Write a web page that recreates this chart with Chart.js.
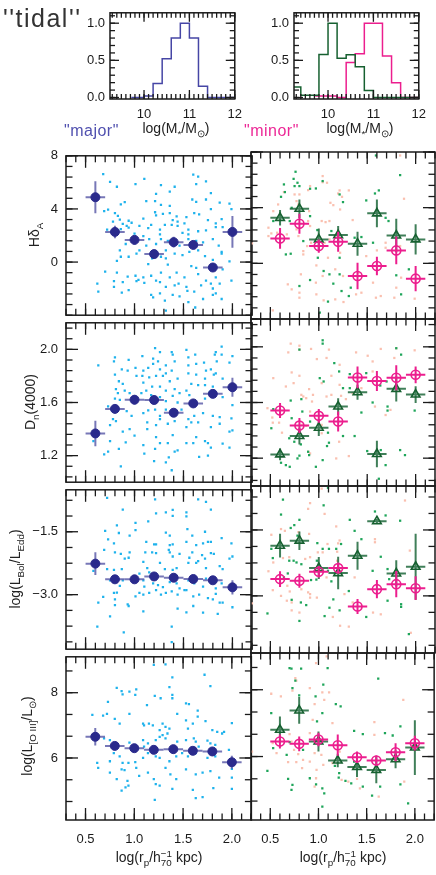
<!DOCTYPE html>
<html lang="en">
<head>
    <meta charset="UTF-8">
    <title>tidal major / minor</title>
    <script src="https://cdn.jsdelivr.net/npm/chart.js"></script>
    <style>
        body {
            margin: 0;
            width: 436px;
            height: 875px;
            position: relative;
            overflow: hidden;
            background: #fff;
            font-family: "Liberation Sans", Arial, sans-serif;
            color: #222;
        }
        canvas { position: absolute; }
        .t { position: absolute; white-space: nowrap; line-height: 1; }
        .yt { position: absolute; white-space: nowrap; line-height: 1; font-size: 14px;
              transform: translate(-50%, -50%) rotate(-90deg); }
        .xt { position: absolute; white-space: nowrap; line-height: 1; font-size: 14px;
              transform: translate(-50%, -50%); }
        sub, sup { font-size: 70%; line-height: 0; }
        .stk { display: inline-flex; flex-direction: column; font-size: 70%; line-height: 0.95;
               vertical-align: middle; }
    </style>
</head>
<body>
<script>
// ---- mass histograms (bin left edges + normalised counts) ----
const massTicks = [10, 11, 12];
const fracTicks = [0, 0.5, 1.0];
const majorMassEdges = [9.72, 10.0, 10.2, 10.4, 10.6, 10.8, 11.0, 11.2, 11.4, 12.0];
const majorMassFrac  = [0, 0.02, 0.19, 0.52, 0.80, 1.0, 0.80, 0.15, 0, 0];
const greenMassEdges = [9.25, 9.4, 9.8, 10.0, 10.2, 10.4, 10.6, 10.8, 11.0, 12.0];
const greenMassFrac  = [0.14, 0.03, 0.58, 1.0, 0.53, 0.575, 0.415, 0.095, 0, 0];
const minorMassEdges = [9.72, 10.2, 10.4, 10.6, 10.8, 11.2, 11.4, 11.6, 12.0];
const minorMassFrac  = [0.02, 0, 0.47, 0.59, 1.0, 0.56, 0.2, 0, 0];

// ---- binned medians vs projected separation ----
const rpTicks = [0.5, 1.0, 1.5, 2.0];
const rpBins = [0.6, 0.8, 1.0, 1.2, 1.4, 1.6, 1.8, 2.0];
const rpHalf = 0.1;

const hdTicks = [0, 4, 8];
const hdMajor = [4.88, 2.27, 1.67, 0.60, 1.50, 1.29, -0.41, 2.27];
const hdMajorErr = [1.2, 0.47, 0.35, 0.25, 0.4, 0.3, 0.3, 1.2];
const hdGreen = [3.27, 3.92, 1.72, 2.03, 1.41, 3.59, 2.00, 1.72];
const hdGreenErr = [0.56, 0.66, 0.78, 0.66, 0.86, 1.0, 1.2, 1.08];
const hdPink = [1.79, 2.84, 1.24, 1.55, -0.91, -0.19, 0.93, -1.10];
const hdPinkErr = [0.75, 0.72, 0.48, 0.72, 0.96, 0.66, 1.0, 0.9];

const dnTicks = [1.2, 1.6, 2.0];
const dnMajor = [1.367, 1.552, 1.621, 1.619, 1.523, 1.593, 1.665, 1.715];
const dnMajorErr = [0.096, 0.032, 0.036, 0.03, 0.03, 0.025, 0.03, 0.072];
const dnGreen = [1.227, 1.359, 1.419, 1.571, 1.674, 1.230, 1.698, 1.657];
const dnGreenErr = [0.042, 0.06, 0.06, 0.06, 0.054, 0.096, 0.09, 0.06];
const dnPink = [1.542, 1.434, 1.504, 1.463, 1.780, 1.754, 1.778, 1.799];
const dnPinkErr = [0.054, 0.054, 0.05, 0.072, 0.078, 0.072, 0.09, 0.06];

const eddTicks = [-3.0, -1.5];
const eddMajor = [-2.26, -2.634, -2.634, -2.566, -2.596, -2.627, -2.657, -2.825];
const eddMajorErr = [0.27, 0.1, 0.1, 0.1, 0.1, 0.08, 0.08, 0.17];
const eddGreen = [-1.858, -1.744, -2.368, -2.482, -2.086, -1.302, -2.49, -2.337];
const eddGreenErr = [0.27, 0.21, 0.25, 0.37, 0.32, 0.05, 0.3, 0.75];
const eddPink = [-2.619, -2.657, -2.452, -2.368, -3.243, -2.847, -2.733, -2.825];
const eddPinkErr = [0.18, 0.16, 0.13, 0.13, 0.17, 0.21, 0.3, 0.27];

const o3Ticks = [6, 8];
const o3Major = [6.65, 6.37, 6.30, 6.25, 6.27, 6.22, 6.20, 5.87];
const o3MajorErr = [0.27, 0.12, 0.12, 0.1, 0.13, 0.1, 0.1, 0.2];
const o3Green = [6.80, 7.38, 6.45, 5.88, 5.69, 5.60, 5.92, 6.27];
const o3GreenErr = [0.4, 0.4, 0.3, 0.2, 0.3, 0.4, 0.27, 0.82];
const o3Pink = [6.45, 6.38, 6.51, 6.34, 5.98, 5.88, 6.13, 6.40];
const o3PinkErr = [0.21, 0.22, 0.2, 0.32, 0.17, 0.15, 0.27, 0.22];

// ---- individual galaxies [log rp, value] ----
const hdMajorDots = [[0.68,6.62],[0.75,6.03],[0.82,5.67],[1.10,6.27],[1.01,5.86],[1.27,5.79],[1.41,5.67],[1.60,6.58],[1.65,6.43],[1.63,5.86],[1.73,6.07],[1.36,5.31],[1.22,5.14],[1.78,5.19],[1.12,4.59],[1.21,4.59],[1.59,4.71],[1.63,4.54],[1.73,4.71],[1.87,4.47],[0.86,4.35],[0.90,4.52],[1.27,4.30],[1.36,4.23],[1.97,4.40],[0.69,3.83],[0.73,3.95],[0.80,3.68],[0.83,3.47],[0.85,3.20],[0.94,3.11],[0.97,2.96],[1.09,3.27],[1.21,3.75],[1.22,3.51],[1.29,3.63],[1.36,3.68],[1.43,3.44],[1.39,3.15],[1.44,3.04],[1.53,3.39],[1.51,2.92],[1.61,3.68],[1.66,3.59],[1.78,3.99],[1.89,3.23],[1.75,3.15],[1.83,2.92],[1.99,3.99],[0.78,3.04],[0.88,2.87],[0.92,2.72],[0.72,2.44],[0.86,2.48],[0.94,2.60],[1.05,2.72],[1.14,2.56],[1.17,2.80],[1.26,2.44],[1.26,2.08],[1.31,2.80],[1.38,2.80],[1.44,2.72],[1.49,2.20],[1.55,2.44],[1.65,2.32],[1.73,2.39],[1.83,2.63],[1.90,2.63],[1.00,2.15],[1.09,1.96],[1.15,1.72],[1.12,1.24],[1.27,1.72],[1.22,1.36],[1.34,1.60],[1.32,0.88],[1.46,1.24],[1.55,2.08],[1.55,1.72],[1.63,1.60],[1.70,1.48],[1.80,1.72],[1.86,1.24],[1.89,0.76],[0.85,0.88],[0.91,1.36],[0.86,0.40],[0.94,0.40],[1.02,0.64],[1.05,0.88],[1.14,-0.15],[1.18,0.28],[1.27,0.40],[1.32,0.28],[1.41,0.64],[1.49,0.52],[1.56,0.76],[1.65,0.88],[1.72,0.45],[1.80,0.16],[1.89,0.64],[1.97,0.05],[0.82,0.09],[0.70,-0.72],[0.82,-0.79],[0.93,-1.10],[1.01,-1.03],[1.04,-1.34],[1.09,-1.15],[1.17,-1.03],[1.27,-0.79],[1.34,-0.19],[1.36,-1.15],[1.43,-0.79],[1.51,-1.15],[1.58,-0.31],[1.63,-0.43],[1.65,-0.91],[1.73,-1.39],[1.83,-1.15],[1.90,-0.55],[1.99,-1.39],[0.62,-1.63],[0.63,-2.23],[0.79,-1.44],[0.79,-1.87],[0.88,-1.51],[0.87,-2.30],[0.94,-2.11],[1.02,-1.44],[1.10,-1.56],[1.22,-1.39],[1.26,-1.51],[1.32,-1.87],[1.41,-1.75],[1.45,-1.63],[1.53,-1.87],[1.54,-2.16],[1.61,-2.23],[1.68,-1.75],[1.78,-1.63],[1.80,-1.99],[1.87,-1.63],[1.83,-2.35],[1.89,-2.78],[1.17,-2.47],[1.19,-2.66],[1.26,-2.35],[1.31,-2.90],[1.39,-2.47],[1.46,-2.59],[1.55,-3.02],[1.62,-3.42],[1.70,-2.78],[1.32,-3.66],[1.80,-2.47]];
const hdGreenDots = [[1.59,7.75],[1.84,6.34],[0.76,6.58],[0.74,6.07],[0.78,5.79],[0.64,5.67],[0.80,5.55],[0.75,5.55],[1.04,5.91],[0.97,5.38],[0.91,5.36],[1.62,5.24],[1.58,5.02],[1.215,4.95],[1.25,4.40],[1.49,4.52],[0.65,5.12],[0.61,4.78],[0.72,3.99],[0.53,3.04],[0.70,3.04],[1.69,3.27],[1.72,3.04],[0.91,3.39],[1.13,2.32],[0.985,2.39],[0.84,1.60],[1.37,1.84],[1.44,1.89],[1.56,1.48],[0.66,0.64],[0.71,0.69],[0.99,0.40],[1.215,0.40],[1.05,-0.55],[1.11,-0.79],[1.215,-0.79],[0.91,-1.20],[1.15,-1.46],[1.33,-1.75],[1.235,-1.99],[1.31,-2.35],[0.80,-1.63],[1.85,-2.23],[1.80,-0.86],[1.93,-0.43],[1.095,-2.75],[1.01,-3.54]];
const hdPinkDots = [[1.84,7.75],[1.04,6.27],[1.085,5.79],[1.04,5.83],[0.91,5.55],[0.89,5.26],[0.64,5.12],[0.75,4.95],[0.80,4.95],[1.215,5.24],[1.31,5.24],[1.20,5.02],[1.24,4.78],[1.12,4.35],[1.15,4.18],[1.22,3.87],[1.88,4.64],[0.58,4.23],[0.53,3.75],[0.77,4.47],[0.79,4.23],[0.90,3.75],[1.03,3.04],[1.07,2.96],[1.11,3.04],[1.35,3.11],[0.77,2.44],[0.48,2.56],[0.48,1.96],[0.57,2.20],[0.51,2.15],[0.67,2.08],[0.91,2.68],[0.89,3.04],[0.79,1.96],[0.92,1.48],[0.88,1.24],[0.84,0.88],[0.84,0.64],[1.06,1.48],[1.11,1.72],[0.975,-0.15],[1.095,0.40],[1.22,0.76],[1.49,0.52],[1.60,0.93],[1.69,1.48],[1.69,1.12],[1.84,1.24],[0.815,-0.79],[0.97,-1.39],[1.04,-0.91],[1.17,-0.43],[1.25,-0.91],[1.41,-0.67],[1.56,-1.39],[1.80,-1.75],[1.85,-1.03],[0.68,-1.51],[0.72,-1.87],[0.80,-2.11],[0.80,-2.47],[0.975,-2.23],[1.05,-2.66],[1.17,-2.59],[1.255,-2.78],[1.44,-2.11],[1.385,-2.23],[1.59,-2.47],[1.64,-2.35],[1.78,-2.47],[1.99,-2.54],[0.525,-3.38],[0.31,1.43]];

const dnMajorDots = [[1.21,2.01],[1.26,1.98],[1.38,1.98],[1.53,1.997],[1.83,1.98],[1.89,2.02],[1.62,1.96],[0.80,1.94],[0.79,1.91],[0.94,1.92],[1.08,1.95],[1.19,1.93],[1.24,1.91],[1.32,1.88],[1.39,1.96],[1.41,1.91],[1.55,1.94],[1.71,1.90],[1.82,1.96],[1.84,1.91],[1.89,1.96],[2.00,1.95],[0.63,1.88],[0.87,1.85],[1.01,1.86],[1.09,1.84],[1.14,1.86],[1.19,1.89],[1.26,1.85],[1.32,1.82],[1.38,1.84],[1.55,1.88],[1.63,1.89],[1.73,1.84],[1.78,1.85],[1.83,1.82],[1.97,1.90],[0.80,1.81],[0.84,1.76],[0.88,1.74],[0.93,1.84],[1.02,1.80],[1.08,1.80],[1.15,1.79],[1.22,1.80],[1.29,1.80],[1.36,1.76],[1.44,1.78],[1.55,1.82],[1.58,1.74],[1.63,1.81],[1.72,1.78],[1.81,1.81],[1.90,1.78],[0.81,1.70],[0.83,1.67],[0.90,1.69],[0.95,1.67],[1.09,1.75],[1.12,1.69],[1.18,1.72],[1.26,1.72],[1.32,1.69],[1.41,1.70],[1.46,1.67],[1.53,1.69],[1.65,1.73],[1.72,1.73],[1.80,1.72],[1.90,1.64],[2.00,1.58],[0.80,1.63],[0.85,1.62],[1.07,1.67],[1.17,1.655],[1.26,1.64],[1.32,1.61],[1.39,1.65],[1.44,1.60],[1.56,1.655],[1.72,1.63],[1.77,1.68],[0.73,1.57],[0.92,1.535],[0.97,1.50],[1.09,1.52],[1.14,1.54],[1.21,1.547],[1.26,1.50],[1.32,1.547],[1.39,1.50],[1.48,1.547],[1.55,1.475],[1.61,1.50],[1.70,1.52],[1.80,1.50],[1.87,1.49],[1.99,1.48],[0.75,1.43],[0.78,1.475],[0.81,1.46],[0.88,1.38],[0.95,1.40],[1.13,1.45],[1.22,1.43],[1.26,1.475],[1.34,1.44],[1.41,1.46],[1.53,1.415],[1.58,1.45],[1.65,1.45],[1.78,1.415],[1.87,1.44],[1.97,1.38],[2.00,1.39],[0.58,1.31],[0.69,1.21],[0.73,1.23],[0.75,1.31],[0.84,1.25],[0.91,1.30],[1.00,1.35],[1.09,1.28],[1.10,1.215],[1.13,1.40],[1.21,1.25],[1.22,1.34],[1.26,1.295],[1.34,1.295],[1.39,1.355],[1.41,1.23],[1.44,1.24],[1.53,1.295],[1.60,1.295],[1.63,1.34],[1.72,1.31],[1.75,1.295],[1.78,1.26],[1.90,1.29],[1.97,1.26],[0.86,1.12],[1.20,1.158],[1.32,1.15],[1.35,1.186],[1.38,1.09],[1.66,1.19],[1.75,1.20]];
const dnGreenDots = [[1.04,2.047],[1.04,2.023],[0.80,1.98],[1.85,1.944],[1.80,1.99],[1.16,1.883],[1.21,1.823],[1.01,1.775],[1.05,1.751],[1.32,1.804],[1.25,1.703],[1.32,1.703],[1.49,1.811],[1.70,1.751],[1.635,1.722],[0.71,1.614],[0.82,1.624],[0.53,1.552],[0.83,1.535],[0.51,1.415],[0.72,1.487],[0.91,1.463],[1.44,1.528],[1.556,1.60],[1.71,1.571],[1.71,1.542],[1.99,1.542],[0.695,1.343],[0.747,1.318],[0.815,1.299],[1.095,1.383],[1.25,1.359],[1.37,1.359],[1.105,1.311],[1.085,1.287],[0.89,1.246],[0.90,1.222],[0.80,1.218],[0.78,1.198],[0.61,1.167],[0.66,1.15],[0.70,1.138],[1.04,1.186],[0.97,1.138],[1.50,1.251],[1.64,1.258],[1.84,1.258],[1.89,1.222],[1.69,1.15],[1.62,1.052]];
const dnPinkDots = [[0.71,2.023],[0.80,2.008],[0.80,1.98],[1.105,1.98],[0.685,1.96],[0.92,1.985],[1.385,1.96],[1.505,1.936],[1.64,1.985],[1.80,1.99],[1.99,1.975],[0.98,1.912],[1.08,1.92],[0.72,1.816],[0.80,1.792],[0.53,1.775],[0.66,1.715],[0.74,1.739],[1.03,1.739],[1.13,1.792],[1.215,1.871],[1.556,1.895],[1.556,1.823],[1.78,1.92],[0.90,1.696],[0.82,1.655],[0.84,1.643],[0.87,1.631],[0.93,1.607],[0.91,1.535],[1.08,1.643],[1.13,1.655],[1.23,1.648],[1.28,1.624],[1.58,1.571],[1.69,1.51],[1.74,1.547],[0.47,1.559],[0.52,1.492],[0.525,1.455],[0.59,1.455],[0.62,1.383],[0.83,1.439],[0.87,1.432],[1.03,1.439],[1.03,1.379],[1.21,1.318],[1.18,1.198],[0.89,1.246],[0.91,1.234],[1.31,1.215],[1.215,1.727],[1.35,1.667],[1.44,1.703],[0.94,1.655]];

const eddMajorDots = [[0.72,-0.69],[1.21,-0.73],[1.65,-0.73],[1.73,-0.79],[0.88,-0.97],[1.22,-1.06],[1.32,-1.04],[1.39,-0.98],[1.39,-1.12],[1.53,-1.04],[1.53,-1.135],[1.78,-0.97],[1.01,-1.29],[1.14,-1.25],[0.82,-1.35],[0.70,-1.48],[0.84,-1.53],[0.95,-1.59],[1.01,-1.46],[1.32,-1.52],[1.36,-1.59],[1.54,-1.44],[1.59,-1.59],[1.72,-1.50],[0.73,-1.68],[0.79,-1.78],[1.12,-1.74],[1.20,-1.80],[1.22,-1.80],[1.36,-1.82],[1.39,-1.80],[1.53,-1.74],[1.63,-1.82],[1.70,-1.78],[1.75,-1.74],[1.78,-1.74],[1.89,-1.65],[1.99,-1.78],[0.69,-1.93],[0.80,-1.99],[0.86,-2.03],[0.90,-2.14],[0.94,-2.12],[0.95,-1.99],[1.11,-1.99],[1.18,-1.99],[1.22,-2.01],[1.35,-1.93],[1.36,-1.99],[1.39,-2.09],[1.46,-2.03],[1.56,-2.12],[1.59,-1.99],[1.65,-2.20],[1.69,-2.06],[1.72,-2.14],[1.78,-2.01],[1.81,-2.03],[1.97,-2.14],[2.00,-2.09],[0.58,-2.43],[0.72,-2.39],[0.79,-2.41],[0.87,-2.39],[1.09,-2.22],[1.13,-2.37],[1.26,-2.24],[1.31,-2.39],[1.39,-2.41],[1.43,-2.37],[1.55,-2.24],[1.63,-2.24],[1.73,-2.37],[1.87,-2.32],[1.90,-2.39],[0.75,-2.66],[0.85,-2.79],[0.88,-2.66],[1.05,-2.50],[1.09,-2.66],[1.10,-2.81],[1.15,-2.47],[1.19,-2.73],[1.24,-2.77],[1.29,-2.82],[1.36,-2.70],[1.38,-2.92],[1.43,-2.73],[1.46,-2.85],[1.51,-2.89],[1.55,-2.66],[1.61,-2.73],[1.70,-2.81],[1.73,-2.62],[1.83,-2.85],[1.89,-2.73],[1.83,-2.98],[0.63,-3.19],[0.68,-3.05],[0.79,-2.96],[0.80,-3.11],[0.82,-2.95],[0.94,-3.27],[1.01,-3.04],[1.05,-2.96],[1.09,-3.0],[1.15,-2.96],[1.22,-2.89],[1.27,-3.0],[1.32,-2.96],[1.44,-3.0],[1.53,-2.89],[1.60,-3.04],[1.66,-3.0],[1.75,-3.08],[1.80,-3.11],[1.87,-3.19],[1.90,-3.19],[2.00,-3.30],[0.80,-3.25],[0.75,-3.52],[0.93,-3.23],[1.09,-3.40],[1.44,-3.33],[1.53,-3.42],[1.60,-3.27],[1.70,-3.43],[1.85,-3.46],[0.62,-3.76],[0.89,-3.90],[1.38,-3.76],[1.38,-4.13]];
const eddGreenDots = [[1.095,-0.54],[0.63,-0.81],[1.05,-0.94],[0.61,-1.15],[0.80,-1.27],[1.58,-1.08],[1.69,-1.17],[1.84,-1.29],[1.32,-1.27],[0.747,-1.39],[0.71,-1.455],[0.78,-1.63],[1.37,-1.52],[1.44,-1.71],[0.985,-1.80],[1.23,-1.82],[1.18,-1.93],[1.04,-1.93],[1.105,-1.93],[0.51,-1.93],[0.525,-2.14],[0.74,-2.20],[0.695,-2.20],[0.82,-2.28],[0.77,-2.24],[1.64,-2.11],[1.556,-2.43],[1.71,-2.39],[1.727,-2.62],[0.98,-2.20],[0.92,-2.64],[0.68,-2.49],[0.64,-2.58],[0.975,-2.63],[1.13,-2.67],[1.095,-2.43],[1.31,-2.89],[0.72,-3.09],[0.815,-3.15],[0.87,-3.21],[1.15,-3.08],[1.215,-3.33],[1.11,-3.27],[0.80,-3.57],[1.06,-3.46],[1.49,-3.48],[1.85,-3.19],[1.85,-3.25],[1.71,-3.11],[0.47,-3.40],[1.93,-3.87]];
const eddPinkDots = [[1.03,-0.56],[1.89,-0.83],[0.91,-0.89],[0.89,-1.02],[1.06,-1.135],[1.18,-1.42],[0.61,-1.48],[0.65,-1.52],[0.90,-1.59],[0.79,-1.55],[0.51,-1.61],[1.215,-1.74],[1.09,-1.82],[1.20,-1.805],[1.58,-1.71],[1.58,-1.78],[1.94,-1.97],[1.04,-2.01],[1.19,-1.995],[0.99,-2.01],[0.91,-2.12],[0.86,-2.16],[0.695,-2.12],[0.53,-2.24],[0.63,-2.14],[1.19,-2.20],[1.02,-2.37],[1.08,-2.58],[1.23,-2.43],[1.37,-2.58],[0.48,-2.44],[0.525,-2.87],[0.675,-2.77],[0.70,-2.90],[0.82,-2.85],[0.89,-2.92],[0.98,-3.04],[0.91,-3.04],[0.91,-2.96],[1.265,-2.96],[0.61,-3.0],[0.67,-3.11],[0.72,-3.15],[0.80,-3.38],[0.72,-3.33],[1.145,-3.48],[1.22,-3.68],[1.31,-3.70],[1.35,-3.15],[1.56,-3.38],[1.64,-3.42],[1.95,-3.84],[0.31,-3.17]];

const o3MajorDots = [[1.20,8.85],[1.32,8.87],[1.39,8.47],[1.72,8.55],[1.78,8.20],[0.82,8.15],[0.87,8.05],[0.95,8.03],[1.02,8.10],[1.01,7.93],[0.88,7.95],[0.73,7.72],[1.13,7.62],[1.21,7.90],[1.27,7.83],[1.36,8.17],[1.39,7.93],[1.39,7.83],[1.53,7.67],[1.56,7.65],[1.44,7.35],[1.65,7.45],[1.65,7.27],[0.57,7.32],[0.68,7.30],[0.72,7.35],[0.80,7.20],[0.85,7.05],[0.95,7.35],[1.09,7.05],[1.10,7.0],[1.15,7.05],[1.19,7.0],[1.26,6.85],[1.29,7.05],[1.32,6.95],[1.36,6.90],[1.53,7.15],[1.55,6.90],[1.60,7.05],[1.73,7.13],[1.80,6.85],[1.85,6.80],[1.90,6.75],[2.0,7.07],[0.69,6.60],[0.75,6.55],[0.81,6.45],[0.83,6.40],[0.95,6.47],[1.09,6.55],[1.10,6.35],[1.14,6.45],[1.22,6.55],[1.26,6.65],[1.29,6.70],[1.32,6.60],[1.34,6.75],[1.44,6.50],[1.53,6.55],[1.61,6.60],[1.63,6.50],[1.66,6.35],[1.75,6.53],[1.78,6.45],[1.83,6.40],[1.92,6.80],[1.97,6.25],[0.62,5.85],[0.63,5.70],[0.75,5.90],[0.79,6.15],[0.85,6.05],[0.88,5.85],[0.94,5.85],[1.01,5.87],[1.09,6.0],[1.14,6.15],[1.22,6.05],[1.26,6.0],[1.36,5.90],[1.43,6.05],[1.49,6.15],[1.55,6.05],[1.63,6.15],[1.75,6.0],[1.83,6.05],[2.0,5.67],[0.75,5.55],[0.87,5.65],[0.90,5.63],[0.91,5.10],[0.94,5.15],[1.02,5.70],[1.05,5.45],[1.14,5.55],[1.20,5.35],[1.22,5.20],[1.26,5.15],[1.32,5.70],[1.37,5.50],[1.43,5.35],[1.53,5.65],[1.63,5.50],[1.70,5.55],[1.78,5.60],[1.87,5.40],[2.0,5.40],[0.82,5.35],[0.93,5.30],[0.87,5.0],[1.39,5.05],[1.60,5.02],[1.63,4.77],[1.70,4.80],[1.81,5.08],[2.0,5.05],[1.21,4.72]];
const o3GreenDots = [[0.70,8.65],[0.72,8.63],[0.82,8.63],[1.095,8.65],[1.05,8.15],[0.76,8.27],[0.73,8.05],[0.80,7.83],[0.97,7.80],[1.18,7.57],[1.23,7.50],[1.04,7.30],[0.985,7.05],[0.51,7.30],[1.37,6.77],[1.46,6.67],[1.69,6.70],[1.77,6.63],[1.85,6.90],[0.70,6.43],[0.84,6.20],[0.53,6.25],[0.47,5.57],[0.67,6.05],[0.685,5.33],[0.73,5.15],[0.72,5.0],[0.91,5.35],[0.975,5.17],[1.04,5.05],[1.06,4.90],[1.215,5.50],[1.21,5.37],[1.17,5.72],[1.28,5.27],[1.34,5.20],[1.46,5.10],[1.37,5.85],[1.64,5.10],[1.556,4.83],[1.62,8.33],[1.85,5.17],[1.93,4.60],[1.04,4.50]];
const o3PinkDots = [[1.085,9.0],[0.975,8.80],[0.76,8.35],[0.77,8.27],[0.73,7.97],[0.51,7.88],[0.61,7.80],[0.91,8.05],[1.04,7.92],[1.11,7.92],[1.06,7.70],[0.96,7.57],[1.145,7.0],[0.94,7.10],[0.91,6.70],[0.70,6.67],[0.72,6.45],[0.747,6.20],[0.525,6.40],[0.565,6.10],[0.685,5.83],[0.77,5.83],[0.79,6.07],[0.84,5.90],[0.96,6.10],[0.91,5.85],[0.98,5.60],[1.05,5.75],[1.145,5.80],[1.03,6.05],[1.22,6.15],[0.83,5.65],[0.975,5.35],[0.96,5.10],[1.24,5.30],[1.31,5.25],[1.40,5.33],[1.43,5.05],[1.58,7.03],[1.58,6.65],[1.88,7.70],[1.625,4.80],[1.89,5.25],[0.31,6.15],[1.36,5.65]];

// ---- look ----
const INK = '#1a1a1a';
const FONT = {family: '"Liberation Sans", Arial, sans-serif', size: 13};
const NAVY = 'rgb(42,42,140)', NAVY_ERR = 'rgba(95,95,170,0.85)';
const DKGREEN = 'rgb(22,96,48)', DKGREEN_ERR = 'rgba(30,105,60,0.85)';
const MAGENTA = 'rgb(236,30,142)';
const CYAN = 'rgb(30,178,236)', DOTGREEN = 'rgb(30,165,90)', DOTPINK = 'rgb(250,192,176)';

function steps(min, max, anchor, step) {
    const out = [];
    const k0 = Math.ceil((min - anchor) / step - 1e-6), k1 = Math.floor((max - anchor) / step + 1e-6);
    for (let k = k0; k <= k1; k++) out.push(anchor + k * step);
    return out;
}

// IDL-like box with inward ticks on all four sides
const boxTicks = {
    id: 'boxTicks',
    afterDraw(chart, args, o) {
        const {ctx, chartArea: a, scales: {x, y}} = chart;
        ctx.save();
        ctx.strokeStyle = INK;
        ctx.lineWidth = 1.3;
        const seg = (x1, y1, x2, y2) => { ctx.beginPath(); ctx.moveTo(x1, y1); ctx.lineTo(x2, y2); ctx.stroke(); };
        const xm = (v, len) => { const p = x.getPixelForValue(v); seg(p, a.bottom, p, a.bottom - len); seg(p, a.top, p, a.top + len); };
        const ym = (v, len) => { const p = y.getPixelForValue(v); seg(a.left, p, a.left + len, p); seg(a.right, p, a.right - len, p); };
        steps(x.min, x.max, o.xMajor[0], o.xMinor).forEach(v => xm(v, o.minorLen));
        o.xMajor.forEach(v => xm(v, o.majorLen));
        steps(y.min, y.max, o.yMajor[0], o.yMinor).forEach(v => ym(v, o.minorLen));
        o.yMajor.forEach(v => ym(v, o.majorLen));
        ctx.lineWidth = 1.5;
        ctx.strokeRect(a.left, a.top, a.right - a.left, a.bottom - a.top);
        ctx.restore();
    }
};

// crosses drawn under each marker dataset
const errBars = {
    id: 'errBars',
    beforeDatasetDraw(chart, args) {
        const ds = chart.data.datasets[args.index];
        if (!ds.yerr) return;
        const {ctx, chartArea: a, scales: {x, y}} = chart;
        ctx.save();
        ctx.beginPath();
        ctx.rect(a.left, a.top, a.right - a.left, a.bottom - a.top);
        ctx.clip();
        ctx.strokeStyle = ds.errColor;
        ctx.lineWidth = 2;
        ds.data.forEach((p, i) => {
            const px = x.getPixelForValue(p.x), py = y.getPixelForValue(p.y);
            ctx.beginPath();
            ctx.moveTo(x.getPixelForValue(p.x - ds.xerr), py);
            ctx.lineTo(x.getPixelForValue(p.x + ds.xerr), py);
            ctx.moveTo(px, y.getPixelForValue(p.y - ds.yerr[i]));
            ctx.lineTo(px, y.getPixelForValue(p.y + ds.yerr[i]));
            ctx.stroke();
        });
        ctx.restore();
    }
};

function makeCanvas(left, top, w, h) {
    const c = document.createElement('canvas');
    c.width = w; c.height = h;
    c.style.left = left + 'px'; c.style.top = top + 'px';
    c.style.width = w + 'px'; c.style.height = h + 'px';
    document.body.appendChild(c);
    return c;
}

const fixedTicks = arr => s => { s.ticks = arr.map(v => ({value: v})); };
const signed = (v, d) => (v < 0 ? '\u2212' : '') + Math.abs(v).toFixed(d);

// ---- top histograms ----
function hist(left, sets) {
    const c = makeCanvas(left, 0, 180, 140);
    new Chart(c, {
        type: 'line',
        data: {
            datasets: sets.map(s => ({
                data: s.x.map((v, i) => ({x: v, y: s.y[i]})),
                stepped: true, borderColor: s.color, borderWidth: 1.5, pointRadius: 0, fill: false
            }))
        },
        options: {
            responsive: false, animation: false, events: [],
            layout: {autoPadding: false, padding: {top: 8, right: 7, left: 0, bottom: 0}},
            plugins: {
                legend: {display: false}, tooltip: {enabled: false},
                boxTicks: {xMajor: massTicks, xMinor: 0.1, yMajor: fracTicks, yMinor: 0.1, majorLen: 9, minorLen: 5}
            },
            scales: {
                x: {type: 'linear', min: 9.25, max: 12, afterBuildTicks: fixedTicks(massTicks),
                    afterFit: s => { s.height = 41; },
                    grid: {display: false, drawTicks: false}, border: {display: false},
                    ticks: {padding: 8, font: FONT, color: INK, callback: v => String(v)}},
                y: {type: 'linear', min: -0.02, max: 1.14, afterBuildTicks: fixedTicks(fracTicks),
                    afterFit: s => { s.width = 40; },
                    grid: {display: false, drawTicks: false}, border: {display: false},
                    ticks: {padding: 5, font: FONT, color: INK, callback: v => v.toFixed(1)}}
            }
        },
        plugins: [boxTicks]
    });
}

hist(70, [{x: majorMassEdges, y: majorMassFrac, color: 'rgb(70,70,165)'}]);
hist(254, [
    {x: greenMassEdges, y: greenMassFrac, color: DKGREEN},
    {x: minorMassEdges, y: minorMassFrac, color: MAGENTA}
]);

// ---- 4 x 2 panels ----
const ROW_TOP = [152, 319, 486, 653], ROW_H = 167;

function pts(vals) { return rpBins.map((x, i) => ({x, y: vals[i]})); }
function dots(list) { return list.map(p => ({x: p[0], y: p[1]})); }

function panel(row, col, cfg) {
    const last = row === 3;
    const cx = col === 0 ? 0 : 246, cw = col === 0 ? 253 : 190;
    const padL = col === 0 ? 66 : 5;
    const below = last ? 40 : 12;
    const c = makeCanvas(cx, ROW_TOP[row] - 12, cw, ROW_H + 12 + below);
    const datasets = [];
    cfg.marks.forEach((m, k) => datasets.push({
        data: pts(m.y), yerr: m.err, xerr: rpHalf, errColor: m.errColor, order: k,
        pointStyle: m.style, pointRadius: m.r, borderWidth: m.bw,
        borderColor: m.color, backgroundColor: m.fill
    }));
    cfg.dots.forEach((d, k) => datasets.push({
        data: dots(d.list), order: 10 + k, pointStyle: 'rect', pointRadius: 1.6,
        borderWidth: 0, backgroundColor: d.color
    }));
    new Chart(c, {
        type: 'scatter',
        data: {datasets},
        options: {
            responsive: false, animation: false, events: [],
            layout: {autoPadding: false, padding: {top: 12, right: 1, bottom: last ? 0 : 12, left: col === 0 ? 0 : padL}},
            plugins: {
                legend: {display: false}, tooltip: {enabled: false},
                boxTicks: {xMajor: rpTicks, xMinor: 0.1, yMajor: cfg.ticks, yMinor: cfg.minor, majorLen: 12, minorLen: 6.5}
            },
            scales: {
                x: {type: 'linear', min: 0.3, max: 2.2, display: last,
                    afterBuildTicks: fixedTicks(rpTicks),
                    afterFit: s => { s.height = last ? below : 0; },
                    grid: {display: false, drawTicks: false}, border: {display: false},
                    ticks: {padding: 12, font: FONT, color: INK, callback: v => v.toFixed(1)}},
                y: {type: 'linear', min: cfg.min, max: cfg.max, display: col === 0,
                    afterBuildTicks: fixedTicks(cfg.ticks),
                    afterFit: s => { s.width = col === 0 ? padL : 0; },
                    grid: {display: false, drawTicks: false}, border: {display: false},
                    ticks: {padding: 8, font: FONT, color: INK, callback: cfg.fmt}}
            }
        },
        plugins: [boxTicks, errBars]
    });
}

const majorMark = (y, err) => ({y, err, style: 'circle', r: 4.5, bw: 1, color: NAVY, fill: NAVY, errColor: NAVY_ERR});
const greenMark = (y, err) => ({y, err, style: 'triangle', r: 5, bw: 1.6, color: DKGREEN, fill: 'rgba(0,0,0,0)', errColor: DKGREEN_ERR});
const pinkMark = (y, err) => ({y, err, style: 'circle', r: 4.5, bw: 1.6, color: MAGENTA, fill: 'rgba(0,0,0,0)', errColor: MAGENTA});

const rows = [
    {min: -4, max: 8, ticks: hdTicks, minor: 0.8, fmt: v => signed(v, 0),
     major: [hdMajor, hdMajorErr, hdMajorDots], green: [hdGreen, hdGreenErr, hdGreenDots], pink: [hdPink, hdPinkErr, hdPinkDots]},
    {min: 1.0, max: 2.2, ticks: dnTicks, minor: 0.08, fmt: v => signed(v, 1),
     major: [dnMajor, dnMajorErr, dnMajorDots], green: [dnGreen, dnGreenErr, dnGreenDots], pink: [dnPink, dnPinkErr, dnPinkDots]},
    {min: -4.3, max: -0.5, ticks: eddTicks, minor: 0.375, fmt: v => signed(v, 1),
     major: [eddMajor, eddMajorErr, eddMajorDots], green: [eddGreen, eddGreenErr, eddGreenDots], pink: [eddPink, eddPinkErr, eddPinkDots]},
    {min: 4.1, max: 9.1, ticks: o3Ticks, minor: 2 / 3, fmt: v => signed(v, 0),
     major: [o3Major, o3MajorErr, o3MajorDots], green: [o3Green, o3GreenErr, o3GreenDots], pink: [o3Pink, o3PinkErr, o3PinkDots]}
];

rows.forEach((r, i) => {
    panel(i, 0, {min: r.min, max: r.max, ticks: r.ticks, minor: r.minor, fmt: r.fmt,
        marks: [majorMark(r.major[0], r.major[1])],
        dots: [{list: r.major[2], color: CYAN}]});
    panel(i, 1, {min: r.min, max: r.max, ticks: r.ticks, minor: r.minor, fmt: r.fmt,
        marks: [pinkMark(r.pink[0], r.pink[1]), greenMark(r.green[0], r.green[1])],
        dots: [{list: r.green[2], color: DOTGREEN}, {list: r.pink[2], color: DOTPINK}]});
});
</script>

<div class="t" style="left:3px;top:6px;font-size:25px;letter-spacing:1.5px;color:#333">''tidal''</div>
<div class="t" style="left:64px;top:123px;font-size:16px;letter-spacing:0.5px;color:rgb(80,80,175)">"major"</div>
<div class="t" style="left:244px;top:123px;font-size:16px;letter-spacing:0.5px;color:rgb(236,40,150)">"minor"</div>
<div class="xt" style="left:176px;top:128px">log(M<sub>*</sub>/M<sub>&#8857;</sub>)</div>
<div class="xt" style="left:360px;top:128px">log(M<sub>*</sub>/M<sub>&#8857;</sub>)</div>

<div class="yt" style="left:34px;top:235px">H&delta;<sub>A</sub></div>
<div class="yt" style="left:30px;top:402px">D<sub>n</sub>(4000)</div>
<div class="yt" style="left:15px;top:569px">log(L<sub>Bol</sub>/L<sub>Edd</sub>)</div>
<div class="yt" style="left:27px;top:736px">log(L<sub>[O III]</sub>/L<sub>&#8857;</sub>)</div>

<div class="xt" style="left:159px;top:858px">log(r<sub>p</sub>/h<span class="stk"><span>&minus;1</span><span>70</span></span> kpc)</div>
<div class="xt" style="left:343px;top:858px">log(r<sub>p</sub>/h<span class="stk"><span>&minus;1</span><span>70</span></span> kpc)</div>
</body>
</html>
